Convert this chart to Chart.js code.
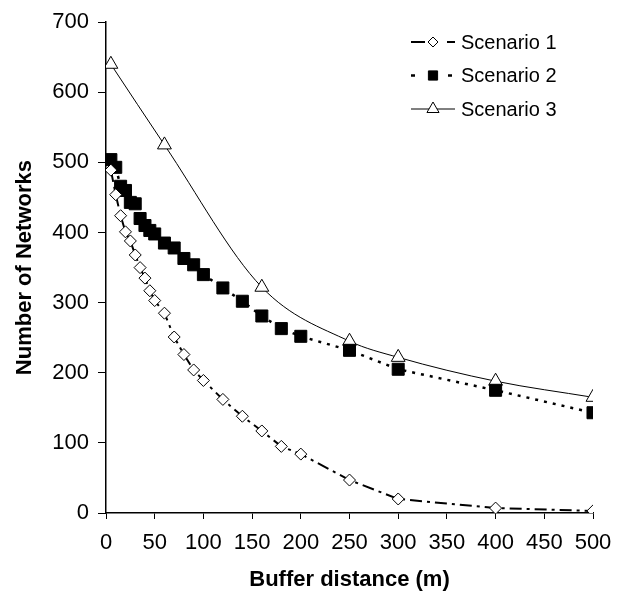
<!DOCTYPE html>
<html>
<head>
<meta charset="utf-8">
<script src="https://cdn.jsdelivr.net/npm/chart.js@4"></script>
<style>
  html, body { margin: 0; padding: 0; background: #fff; }
  #wrap { width: 619px; height: 596px; }
</style>
</head>
<body>
<div id="wrap"><canvas id="chart" width="619" height="596"></canvas></div>
<script>
// Buffer distances (m) and network counts
const distances = [5, 10, 15, 20, 25, 30, 35, 40, 45, 50, 60, 70, 80, 90, 100, 120, 140, 160, 180, 200, 250, 300, 400, 500];
const scenario1 = [489, 454, 424, 401, 388, 368, 350, 335, 317, 303, 285, 251, 226, 204, 189, 162, 138, 117, 95, 84, 47, 20, 7, 3];
const scenario2 = [504, 493, 466, 460, 443, 441, 420, 410, 403, 398, 385, 378, 363, 354, 340, 321, 302, 281, 263, 252, 232, 205, 175, 143];
const distances3 = [5, 60, 160, 250, 300, 400, 500];
const scenario3 = [640, 525, 322, 245, 222, 188, 165];
const xTicks = [0, 50, 100, 150, 200, 250, 300, 350, 400, 450, 500];
const yTicks = [0, 100, 200, 300, 400, 500, 600, 700];

const toPoints = (xs, ys) => xs.map((x, i) => ({ x: x, y: ys[i] }));
const FONT = '"Liberation Sans", Arial, sans-serif';

// legend drawn by hand: line sample with marker, then the name
const legendPlugin = {
    id: 'lineLegend',
    afterDraw(chart) {
        const ctx = chart.ctx;
        chart.data.datasets.forEach((ds, i) => {
            const y = 42 + i * 33.5;
            ctx.save();
            ctx.strokeStyle = '#000';
            ctx.lineWidth = ds.borderWidth;
            ctx.setLineDash(ds.legendDash || []);
            ctx.beginPath();
            ctx.moveTo(411, y);
            ctx.lineTo(455, y);
            ctx.stroke();
            ctx.setLineDash([]);
            ctx.fillStyle = ds.pointBackgroundColor;
            ctx.strokeStyle = '#000';
            ctx.lineWidth = 1;
            Chart.helpers.drawPoint(ctx, {
                pointStyle: ds.pointStyle,
                radius: ds.legendRadius,
                borderWidth: 1
            }, 433, y);
            ctx.fillStyle = '#000';
            ctx.font = '20px ' + FONT;
            ctx.textBaseline = 'middle';
            ctx.fillText(ds.label, 461, y + 1);
            ctx.restore();
        });
    }
};

const ctx = document.getElementById('chart').getContext('2d');
const chart = new Chart(ctx, {
    type: 'line',
    data: {
        datasets: [
            {
                label: 'Scenario 1',
                data: toPoints(distances, scenario1),
                borderColor: '#000',
                borderWidth: 2,
                borderDash: [12, 5, 3, 5],
                legendDash: [14, 22],
                pointStyle: 'rectRot',
                pointRadius: 6,
                legendRadius: 5,
                pointBorderWidth: 1,
                pointBackgroundColor: '#fff',
                pointBorderColor: '#000',
                tension: 0
            },
            {
                label: 'Scenario 2',
                data: toPoints(distances, scenario2),
                borderColor: '#000',
                borderWidth: 2.5,
                borderDash: [3, 6],
                legendDash: [4, 33],
                pointStyle: 'rect',
                pointRadius: 8.5,
                legendRadius: 6.5,
                pointBorderWidth: 1,
                pointBackgroundColor: '#000',
                pointBorderColor: '#000',
                tension: 0
            },
            {
                label: 'Scenario 3',
                data: toPoints(distances3, scenario3),
                borderColor: '#000',
                borderWidth: 1,
                pointStyle: 'triangle',
                pointRadius: 8,
                legendRadius: 7,
                pointBorderWidth: 1,
                pointBackgroundColor: '#fff',
                pointBorderColor: '#000',
                cubicInterpolationMode: 'monotone'
            }
        ]
    },
    options: {
        responsive: false,
        animation: false,
        layout: { padding: { left: 0, right: 26, top: 20, bottom: 0 } },
        plugins: {
            legend: { display: false },
            tooltip: { enabled: false }
        },
        scales: {
            x: {
                type: 'linear',
                min: 0,
                max: 500,
                afterFit: (scale) => {
                    scale.height = 83;
                    scale.paddingLeft = 0;
                    scale.paddingRight = 0;
                },
                afterBuildTicks: (scale) => { scale.ticks = xTicks.map(v => ({ value: v })); },
                grid: { drawOnChartArea: false, drawTicks: true, tickLength: 6, color: '#000' },
                border: { display: true, color: '#000', width: 1.5 },
                ticks: {
                    color: '#000',
                    padding: 11,
                    maxRotation: 0,
                    autoSkip: false,
                    font: { family: FONT, size: 22 }
                },
                title: {
                    display: true,
                    text: 'Buffer distance (m)',
                    color: '#000',
                    padding: { top: 0, bottom: 3 },
                    font: { family: FONT, size: 22, weight: 'bold' }
                }
            },
            y: {
                min: 0,
                max: 700,
                afterFit: (scale) => { scale.width = 106; },
                afterBuildTicks: (scale) => { scale.ticks = yTicks.map(v => ({ value: v })); },
                grid: { drawOnChartArea: false, drawTicks: true, tickLength: 8, color: '#000' },
                border: { display: true, color: '#000', width: 1.5 },
                ticks: {
                    color: '#000',
                    padding: 9,
                    font: { family: FONT, size: 22 }
                },
                title: {
                    display: true,
                    text: 'Number of Networks',
                    color: '#000',
                    padding: { top: 12, bottom: 0 },
                    font: { family: FONT, size: 22, weight: 'bold' }
                }
            }
        }
    },
    plugins: [legendPlugin]
});
</script>
</body>
</html>
